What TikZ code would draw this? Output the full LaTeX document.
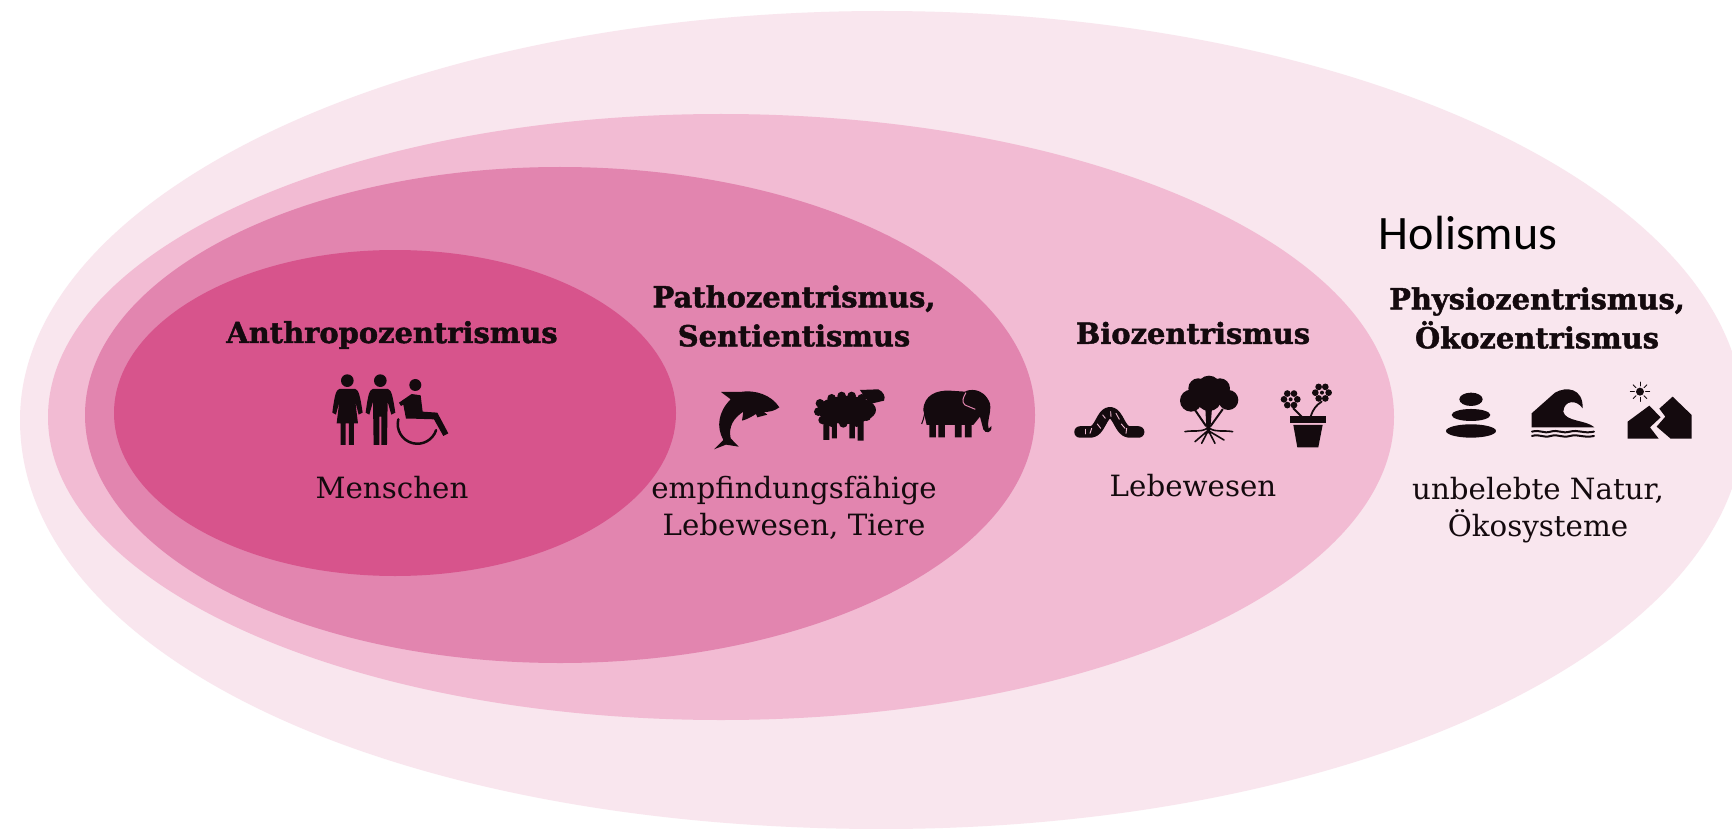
\documentclass[tikz,border=0pt]{standalone}
\usepackage{fontspec}
\setmainfont[BoldFeatures={FakeBold=1.6}]{DejaVu Serif}
\newfontfamily\holfont{Carlito}
\definecolor{ringA}{HTML}{F9E6EE}
\definecolor{ringB}{HTML}{F2BBD3}
\definecolor{ringC}{HTML}{E285AF}
\definecolor{ringD}{HTML}{D7548C}
\definecolor{ink}{HTML}{140A0E}
\tikzset{
  zone/.style={draw=none},
  head/.style={text=ink,align=center,inner sep=0pt,font=\fontsize{28.9}{39}\selectfont\bfseries},
  body/.style={text=ink,align=center,inner sep=0pt,font=\fontsize{29.3}{37}\selectfont},
  crop/.style 2 args={shift={(#1pt,-#2pt)},x=.3333pt,y=-.3333pt},
  ico/.style={fill=ink,draw=none},
  icl/.style={draw=ink,fill=none,line cap=round,line join=round},
}
\begin{document}
\begin{tikzpicture}[x=1pt,y=-1pt]
\useasboundingbox (0,0) rectangle (1732,829);
\fill[white] (0,0) rectangle (1732,829);
\begin{scope}
\clip (0,0) rectangle (1732,829);
\fill[zone,ringA] (20,420) arc [start angle=180,end angle=450,x radius=862,y radius=409] .. controls (390,829) and (20,655) .. cycle;
\end{scope}
\fill[zone,ringB] (721,417) ellipse [x radius=673,y radius=303];
\fill[zone,ringC] (560,415) ellipse [x radius=475,y radius=248];
\fill[zone,ringD] (395,413) ellipse [x radius=281,y radius=163];

\node[head] (anthro) at (392,335) {Anthropozentrismus};
\node[body] (mensch) at (392,488) {Menschen};
\node[head] (patho) at (794,316) {Pathozentrismus,\\Sentientismus};
\node[body] (empf) at (794,508) {empfindungsfähige\\Lebewesen, Tiere};
\node[head] (bio) at (1193,333) {Biozentrismus};
\node[body] (leb) at (1193,486) {Lebewesen};
\node[text=black,inner sep=0pt,font=\fontsize{48}{55}\selectfont\holfont] (hol) at (1468,233) {Holismus};
\node[head] (physio) at (1537,318) {Physiozentrismus,\\Ökozentrismus};
\node[body] (unbel) at (1538,510) {unbelebte Natur,\\Ökosysteme};

% people
\begin{scope}[crop={200}{270}]
 \fill[ico] (442,332) circle [radius=19];
 \fill[ico] (418,357) -- (466,357) .. controls (476,360) and (480,375) .. (488,428) -- (476,434) -- (466,395) -- (474,460) -- (462,460) -- (462,525) -- (447,525) -- (447,460) -- (437,460) -- (437,525) -- (422,525) -- (422,460) -- (410,460) -- (418,395) -- (408,434) -- (397,428) .. controls (404,375) and (408,360) .. (418,357) -- cycle;
 \fill[ico] (541,332) circle [radius=19];
 \fill[ico] (518,357) -- (564,357) .. controls (574,360) and (578,375) .. (586,428) -- (574,434) -- (563,395) -- (561,525) -- (544,525) -- (544,440) -- (538,440) -- (538,525) -- (521,525) -- (519,395) -- (508,434) -- (497,428) .. controls (504,375) and (508,360) .. (518,357) -- cycle;
 \fill[ico] (646,345) circle [radius=18];
 \fill[ico] (597,398) -- (635,372) -- (662,376) -- (668,425) -- (712,428) -- (745,490) -- (730,498) -- (702,448) -- (640,446) -- (618,446) -- (610,404) -- (603,408) -- cycle;
 \draw[icl,line width=2.5pt] (595,448) arc [start angle=194,end angle=18,radius=59];
\end{scope}

% dolphin, sheep, elephant
\begin{scope}[crop={640}{270}]
 \fill[ico] (418,412) .. controls (395,375) and (345,358) .. (300,366) -- (243,366) -- (272,388) .. controls (235,425) and (228,470) .. (250,510) -- (222,538) -- (258,524) -- (296,530) -- (272,505) .. controls (265,470) and (280,445) .. (310,425) -- (306,452) .. controls (322,448) and (335,440) .. (348,432) -- (352,442) -- (382,434) -- (372,426) .. controls (390,426) and (405,422) .. (418,412) -- cycle;
 \fill[ico] (620,420) ellipse [x radius=88,y radius=42];
 \foreach \a/\b in {540/400,535/425,548/450,575/385,605/378,635/378,665/385,685/410,680/440,650/458,610/460,575/458}
   \fill[ico] (\a,\b) circle [radius=13];
 \fill[ico] (660,360) -- (715,358) .. controls (730,365) and (738,380) .. (732,392) -- (690,402) -- (670,375) -- cycle;
 \fill[ico] (550,450) rectangle (568,510) (576,455) rectangle (591,505) (628,455) rectangle (645,505) (653,450) rectangle (671,512);
 \fill[ico] (868,440) -- (868,502) -- (888,502) -- (888,465) -- (895,465) -- (895,502) -- (915,502) -- (915,465) -- (945,465) -- (945,502) -- (965,502) -- (965,465) -- (975,465) -- (975,502) -- (995,502) -- (995,440) -- cycle;
 \fill[ico] (850,420) .. controls (852,375) and (890,360) .. (930,362) -- (975,365) .. controls (985,358) and (1030,350) .. (1050,400) .. controls (1055,430) and (1040,450) .. (1046,476) -- (1054,468) .. controls (1058,490) and (1035,492) .. (1030,478) -- (1020,440) -- (1000,465) -- (860,465) -- cycle;
 \draw[draw=ink,line width=1pt] (858,400) .. controls (855,430) and (852,445) .. (845,462);
 \draw[draw=ringC,line width=1pt] (978,368) .. controls (968,385) and (965,395) .. (975,405) -- (1006,418);
\end{scope}

% worm, tree, flowers
\begin{scope}[crop={1060}{300}]
 \draw[icl,line width=11.5pt] (60,396) -- (92,396) .. controls (120,396) and (125,338) .. (150,338) .. controls (175,338) and (180,396) .. (208,396) -- (236,396);
 \foreach \pa/\pb/\qa/\qb in {75/388/75/402,95/385/90/400,122/385/112/372,136/355/128/345,152/335/153/350,168/340/178/358,184/372/195/385,200/385/198/400}
   \draw[draw=ringB,line width=.9pt,line cap=round] (\pa,\pb) -- (\qa,\qb);
 \foreach \a/\b/\r in {447/262/35,447/295/38,393/302/33,415/265/30,480/265/30,505/300/30}
   \fill[ico] (\a,\b) circle [radius=\r];
 \fill[ico] (436,325) -- (456,325) -- (450,400) -- (440,400) -- cycle;
 \draw[icl,line width=2pt] (438,378) -- (405,330) (452,378) -- (488,328);
 \draw[icl,line width=1.6pt] (442,385) .. controls (420,398) and (400,390) .. (375,395) (448,385) .. controls (470,398) and (490,390) .. (518,395) (440,395) -- (405,425) (443,395) -- (425,430) (447,395) -- (465,430) (450,395) -- (492,420);
 \fill[ico] (690,348) rectangle (797,368);
 \fill[ico] (700,375) -- (788,375) -- (775,442) -- (712,442) -- cycle;
 \draw[icl,line width=1.8pt] (700,325) -- (725,350) (785,305) .. controls (770,315) and (760,325) .. (752,350);
 \foreach \cx/\cy in {692/298,786/278} {
   \fill[ico] (\cx,\cy) circle [radius=6];
   \foreach \t in {0,60,...,300}
     \fill[ico] (\cx,\cy) ++(\t:20) circle [radius=10];
 }
\end{scope}

% stones, wave, mountains
\begin{scope}[crop={1360}{200}]
 \fill[ico] (333,598) ellipse [x radius=35,y radius=20];
 \fill[ico] (333,645) ellipse [x radius=58,y radius=18];
 \fill[ico] (333,693) ellipse [x radius=75,y radius=20];
 \fill[ico] (515,682) -- (515,640) -- (585,578) .. controls (620,558) and (670,565) .. (668,625) .. controls (650,598) and (612,600) .. (610,635) .. controls (615,665) and (680,660) .. (703,682) -- cycle;
 \draw[icl,line width=2pt] (516,695) .. controls (540,688) and (550,702) .. (572,695) .. controls (595,688) and (605,702) .. (630,695) .. controls (655,688) and (670,702) .. (702,695);
 \draw[icl,line width=2pt] (516,708) .. controls (540,701) and (550,715) .. (572,708) .. controls (595,701) and (605,715) .. (630,708) .. controls (655,701) and (670,715) .. (702,708);
 \fill[ico] (803,716) -- (803,665) -- (868,617) -- (902,652) -- (870,682) -- (896,716) -- cycle;
 \fill[ico] (938,590) -- (995,645) -- (995,716) -- (932,716) -- (890,680) -- (916,650) -- (898,626) -- cycle;
 \fill[ico] (840,575) circle [radius=12];
 \foreach \t in {0,45,...,315}
   \draw[icl,line width=.9pt] (840,575) ++(\t:17) -- ++(\t:12);
\end{scope}
\end{tikzpicture}
\end{document}
